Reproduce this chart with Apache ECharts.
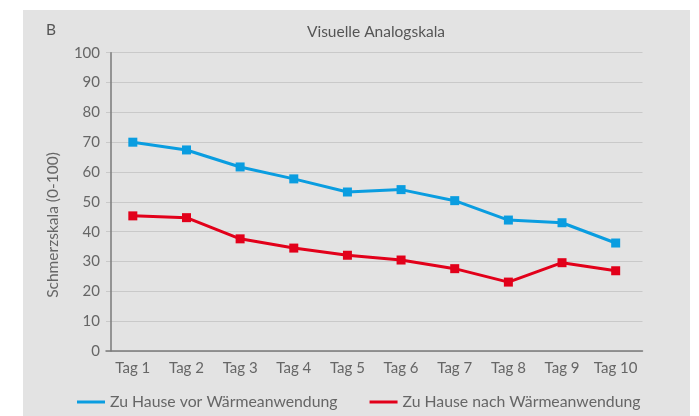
<!DOCTYPE html>
<html>
<head>
<meta charset="utf-8">
<script src="https://cdn.jsdelivr.net/npm/echarts@6/dist/echarts.min.js"></script>
<style>
html,body{margin:0;padding:0;background:#fff;}
#wrap{position:absolute;left:23px;top:10px;width:667px;height:406px;background:#e3e3e3;}
#chart{position:absolute;left:0;top:0;width:699px;height:416px;}
</style>
</head>
<body>
<div id="wrap"></div>
<div id="chart"></div>
<script>
const categories = ['Tag 1','Tag 2','Tag 3','Tag 4','Tag 5','Tag 6','Tag 7','Tag 8','Tag 9','Tag 10'];
const seriesNames = ['Zu Hause vor Wärmeanwendung','Zu Hause nach Wärmeanwendung'];
const vorValues = [70.0, 67.4, 61.7, 57.7, 53.3, 54.1, 50.4, 43.9, 43.0, 36.2];
const nachValues = [45.3, 44.7, 37.6, 34.5, 32.1, 30.5, 27.6, 23.1, 29.6, 26.9];
const yTicks = [0,10,20,30,40,50,60,70,80,90,100];
const colors = ['#0a9de0','#e2001a'];

const FONT = 'Lato, "Open Sans", sans-serif';
const chart = echarts.init(document.getElementById('chart'), null, {renderer:'canvas'});
chart.setOption({
  backgroundColor: 'transparent',
  animation: false,
  color: colors,
  title: {
    text: 'Visuelle Analogskala',
    left: 371, top: 19, textAlign: 'center',
    textStyle: {fontFamily: FONT, fontSize: 15.5, fontWeight: 'normal', color: '#555'}
  },
  graphic: [
    {type:'text', left: 46, top: 22, style:{text:'B', font:'15.5px ' + FONT, fill:'#555'}},
    {type:'text', x: 53, y: 225, rotation: Math.PI/2, style:{text:'Schmerzskala (0-100)', font:'15.5px ' + FONT, fill:'#666', textAlign:'center', textVerticalAlign:'middle'}}
  ],
  legend: {
    left: 72, top: 389,
    itemWidth: 28, itemHeight: 3, itemGap: 32,
    icon: 'rect',
    textStyle: {fontFamily: FONT, fontSize: 15.8, color: '#666'},
    data: seriesNames
  },
  grid: {left: 106, right: 56.5, top: 52.7, bottom: 65, containLabel: false},
  xAxis: {
    type: 'category',
    data: categories,
    boundaryGap: true,
    axisLine: {show: true, lineStyle: {color: '#7a7a7a', width: 1.5}},
    axisTick: {show: false},
    axisLabel: {interval: 0, fontFamily: FONT, fontSize: 15, color: '#666', margin: 10},
    splitLine: {show: false}
  },
  yAxis: {
    type: 'value',
    min: yTicks[0], max: yTicks[yTicks.length-1], interval: 10,
    offset: -5,
    axisLine: {show: true, lineStyle: {color: '#7a7a7a', width: 1.5}},
    axisTick: {show: false},
    axisLabel: {fontFamily: FONT, fontSize: 15, color: '#666', margin: 11},
    splitLine: {show: true, lineStyle: {color: '#c9c9c9', width: 1.2}}
  },
  series: [
    {name: seriesNames[0], type: 'line', data: vorValues, symbol: 'rect', symbolSize: 9,
     lineStyle: {width: 3, color: colors[0]}, itemStyle: {color: colors[0]}},
    {name: seriesNames[1], type: 'line', data: nachValues, symbol: 'rect', symbolSize: 9,
     lineStyle: {width: 3, color: colors[1]}, itemStyle: {color: colors[1]}}
  ]
});
</script>
</body>
</html>
